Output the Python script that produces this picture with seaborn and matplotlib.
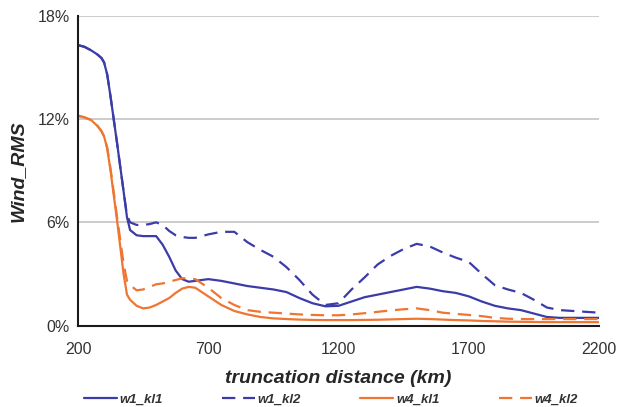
import matplotlib
matplotlib.use("Agg")
import matplotlib.pyplot as plt
import seaborn as sns
import pandas as pd
from matplotlib.ticker import FuncFormatter

# truncation distance (km): finer steps through the steep drop
distance = [200, 225, 250, 275, 290, 300, 312, 325, 350, 375, 388, 400, 425, 450, 475,
            500, 525, 550, 575, 600, 625, 650,
            700, 750, 800, 850, 900, 950, 1000, 1050, 1100, 1150, 1200, 1250,
            1300, 1350, 1400, 1450, 1500, 1550, 1600, 1650, 1700, 1750, 1800,
            1850, 1900, 1950, 2000, 2050, 2100, 2150, 2200]

# Wind RMS (%) for each configuration
w1_kl1 = [16.3, 16.2, 16.0, 15.75, 15.55, 15.3, 14.6, 13.3, 10.6, 7.8, 6.3, 5.55, 5.25, 5.2, 5.2,
          5.2, 4.7, 4.0, 3.2, 2.7, 2.55, 2.6,
          2.7, 2.6, 2.45, 2.3, 2.2, 2.1, 1.95, 1.6, 1.3, 1.12, 1.15, 1.4,
          1.65, 1.8, 1.95, 2.1, 2.25, 2.15, 2.0, 1.9, 1.7, 1.4, 1.15,
          1.0, 0.9, 0.7, 0.5, 0.45, 0.45, 0.45, 0.45]
w1_kl2 = [16.3, 16.2, 16.0, 15.75, 15.55, 15.3, 14.6, 13.3, 10.6, 7.8, 6.4, 6.0, 5.85, 5.85, 5.9,
          6.0, 5.85, 5.5, 5.25, 5.15, 5.1, 5.1,
          5.3, 5.45, 5.45, 4.85, 4.4, 4.0, 3.4, 2.65, 1.8, 1.2, 1.3, 2.1,
          2.8, 3.55, 4.05, 4.45, 4.75, 4.6, 4.25, 3.95, 3.7, 3.0, 2.35,
          2.1, 1.9, 1.5, 1.05, 0.9, 0.85, 0.8, 0.75]
w4_kl1 = [12.2, 12.1, 11.95, 11.6, 11.3, 11.0, 10.3, 9.0, 6.1, 3.0, 1.8, 1.5, 1.15, 1.0, 1.05,
          1.2, 1.4, 1.6, 1.9, 2.15, 2.25, 2.2,
          1.7, 1.2, 0.85, 0.65, 0.5, 0.42, 0.38, 0.35, 0.33, 0.32, 0.32, 0.32,
          0.33, 0.34, 0.36, 0.38, 0.4, 0.38, 0.35, 0.32, 0.3, 0.27, 0.25,
          0.23, 0.22, 0.21, 0.2, 0.2, 0.2, 0.2, 0.2]
w4_kl2 = [12.2, 12.1, 11.95, 11.6, 11.3, 11.0, 10.35, 9.1, 6.3, 3.6, 2.6, 2.35, 2.05, 2.1, 2.25,
          2.4, 2.45, 2.55, 2.65, 2.75, 2.75, 2.7,
          2.2, 1.6, 1.2, 0.9, 0.8, 0.75, 0.7, 0.65, 0.62, 0.6, 0.6, 0.65,
          0.72, 0.8, 0.88, 0.95, 1.0, 0.9, 0.75, 0.68, 0.62, 0.55, 0.45,
          0.4, 0.38, 0.38, 0.38, 0.38, 0.38, 0.38, 0.38]

series_names = ["w1_kl1", "w1_kl2", "w4_kl1", "w4_kl2"]
x_ticks = [200, 700, 1200, 1700, 2200]
y_ticks = [0, 6, 12, 18]

frames = []
for name, vals in zip(series_names, [w1_kl1, w1_kl2, w4_kl1, w4_kl2]):
    frames.append(pd.DataFrame({"distance": distance, "rms": vals, "series": name}))
df = pd.concat(frames, ignore_index=True)

sns.set_style("white")
plt.rcParams["font.family"] = ["Liberation Sans", "DejaVu Sans"]

blue = "#3c3ca8"
orange = "#ef7532"
palette = {"w1_kl1": blue, "w1_kl2": blue, "w4_kl1": orange, "w4_kl2": orange}
dashes = {"w1_kl1": "", "w1_kl2": (6, 3.5), "w4_kl1": "", "w4_kl2": (6, 3.5)}

fig = plt.figure(figsize=(6.24, 4.07), dpi=100)
ax = fig.add_axes([0.125, 0.2, 0.835, 0.761])

sns.lineplot(data=df, x="distance", y="rms", hue="series", style="series",
             palette=palette, dashes=dashes, linewidth=1.6, ax=ax,
             hue_order=series_names, style_order=series_names)

ax.set_xlim(200, 2200)
ax.set_ylim(0, 18)
ax.set_xticks(x_ticks)
ax.set_yticks(y_ticks)
ax.yaxis.set_major_formatter(FuncFormatter(lambda v, p: f"{int(v)}%"))

ax.grid(axis="y", color="#c8c8c8", linewidth=1.3)
ax.grid(axis="x", visible=False)
ax.set_axisbelow(True)
for side in ["top", "right"]:
    ax.spines[side].set_visible(False)
for side in ["left", "bottom"]:
    ax.spines[side].set_color("#1a1a1a")
    ax.spines[side].set_linewidth(1.5)

ax.tick_params(axis="x", direction="in", length=4, width=1.3, color="#1a1a1a",
               labelsize=11.5, labelcolor="#333333", pad=12)
ax.tick_params(axis="y", direction="out", length=4, width=1.3, color="#1a1a1a",
               labelsize=11.5, labelcolor="#333333", pad=2)

ax.set_xlabel("truncation distance (km)", fontsize=14, fontweight="bold",
              fontstyle="italic", color="#262626", labelpad=9)
ax.set_ylabel("Wind_RMS", fontsize=14, fontweight="bold",
              fontstyle="italic", color="#262626", labelpad=8)

handles, labels = ax.get_legend_handles_labels()
ax.legend_.remove()
leg = fig.legend(handles, labels, loc="lower center", bbox_to_anchor=(0.53, -0.025),
                 ncol=4, frameon=False, handlelength=2.5, columnspacing=4.5,
                 handletextpad=0.2, prop={"size": 9.5, "weight": "bold", "style": "italic"})
for t in leg.get_texts():
    t.set_color("#333333")

fig.savefig("out.png", dpi=100)
